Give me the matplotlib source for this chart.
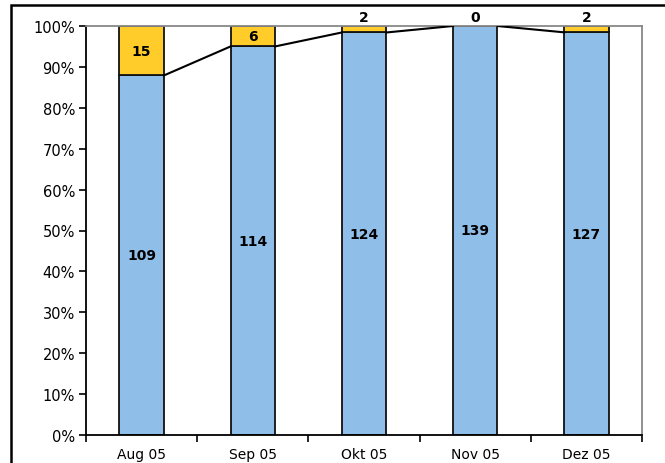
import matplotlib
matplotlib.use("Agg")
import matplotlib.pyplot as plt
import numpy as np
from matplotlib.patches import Rectangle
from matplotlib.ticker import FuncFormatter

months = ["Aug 05", "Sep 05", "Okt 05", "Nov 05", "Dez 05"]
blue_counts = [109, 114, 124, 139, 127]
yellow_counts = [15, 6, 2, 0, 2]
yticks = [0, 10, 20, 30, 40, 50, 60, 70, 80, 90, 100]

BLUE = "#8fbfe8"
YELLOW = "#ffcc29"

blue = np.array(blue_counts, dtype=float)
yellow = np.array(yellow_counts, dtype=float)
total = blue + yellow
blue_pct = blue / total * 100
yellow_pct = yellow / total * 100

fig = plt.figure(figsize=(6.65, 4.64), dpi=100)
ax = fig.add_axes([86 / 665, 28 / 464, 556 / 665, 409 / 464])

x = np.arange(len(months))
w = 0.4
ax.bar(x, blue_pct, w, color=BLUE, edgecolor="#111111", linewidth=1.3, zorder=2)
ax.bar(x, yellow_pct, w, bottom=blue_pct, color=YELLOW, edgecolor="#111111",
       linewidth=1.3, zorder=2)

# series lines between blue tops
for i in range(len(x) - 1):
    ax.plot([x[i] + w / 2, x[i + 1] - w / 2], [blue_pct[i], blue_pct[i + 1]],
            color="black", lw=1.5, zorder=3)

for i in range(len(x)):
    ax.text(x[i], blue_pct[i] / 2, str(blue_counts[i]), ha="center",
            va="center", fontsize=10, fontweight="bold", zorder=4)
    if yellow_pct[i] > 3:
        ax.text(x[i], blue_pct[i] + yellow_pct[i] / 2, str(yellow_counts[i]),
                ha="center", va="center", fontsize=10, fontweight="bold",
                zorder=4)
    else:
        ax.text(x[i], 100.6, str(yellow_counts[i]), ha="center",
                va="bottom", fontsize=10, fontweight="bold", zorder=4,
                clip_on=False)

ax.set_xlim(-0.5, len(x) - 0.5)
ax.set_ylim(0, 100)
ax.set_yticks(yticks)
ax.yaxis.set_major_formatter(FuncFormatter(lambda v, p: f"{v:.0f}%"))
ax.set_xticks(x)
ax.set_xticklabels(months)
ax.set_xticks(np.arange(-0.5, len(x), 1.0), minor=True)
ax.tick_params(axis="x", which="major", length=0, labelsize=10, pad=9)
ax.tick_params(axis="x", which="minor", length=5, width=1.2, direction="out")
ax.tick_params(axis="y", labelsize=10.5, length=5, width=1.2, direction="out",
               pad=3)

for s in ("left", "bottom"):
    ax.spines[s].set_color("black")
    ax.spines[s].set_linewidth(1.3)
for s in ("top", "right"):
    ax.spines[s].set_color("#888888")
    ax.spines[s].set_linewidth(1.3)

# outer chart frame
fig.add_artist(Rectangle((11 / 665, -0.1), 1.2, (464 - 6) / 464 + 0.1,
                         transform=fig.transFigure, fill=False,
                         edgecolor="black", lw=1.8))

fig.savefig("out.png", dpi=100)
